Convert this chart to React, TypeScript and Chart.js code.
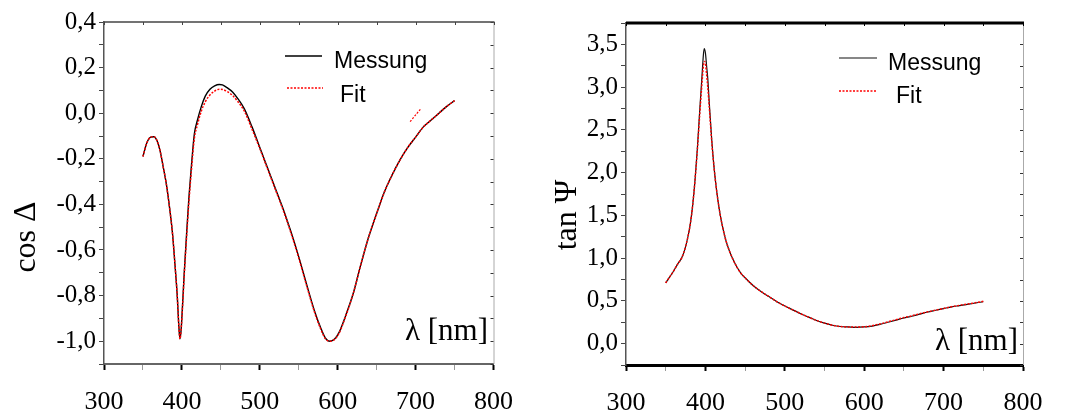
import React, { useEffect, useRef } from 'react';
import { Chart, registerables } from 'chart.js';

Chart.register(...registerables);

// ---------- data: cos Δ (left panel) ----------
const cosLambda = [350, 355, 360, 364, 368, 372, 376, 380, 384, 388, 391, 394, 396, 397.5, 399, 401, 403, 406, 409, 412, 416, 420, 425, 430, 436, 442, 448, 452, 458, 465, 472, 480, 490, 500, 510, 520, 530, 540, 550, 560, 570, 578, 584, 590, 596, 602, 610, 620, 630, 640, 650, 660, 670, 680, 690, 700, 710, 720, 730, 740, 750];
const cosMessung = [-0.19, -0.13, -0.105, -0.103, -0.12, -0.165, -0.235, -0.31, -0.41, -0.53, -0.66, -0.8, -0.93, -0.99, -0.95, -0.83, -0.7, -0.53, -0.37, -0.24, -0.09, -0.03, 0.03, 0.075, 0.105, 0.12, 0.126, 0.124, 0.112, 0.093, 0.063, 0.02, -0.06, -0.15, -0.24, -0.33, -0.42, -0.52, -0.63, -0.75, -0.865, -0.94, -0.985, -1.0, -0.99, -0.96, -0.89, -0.79, -0.66, -0.54, -0.44, -0.345, -0.27, -0.205, -0.15, -0.105, -0.06, -0.03, 0.0, 0.03, 0.055];
const cosFit = [-0.19, -0.13, -0.105, -0.103, -0.12, -0.165, -0.235, -0.31, -0.41, -0.53, -0.66, -0.8, -0.93, -0.99, -0.95, -0.84, -0.71, -0.545, -0.39, -0.26, -0.11, -0.05, 0.01, 0.05, 0.08, 0.097, 0.105, 0.104, 0.095, 0.078, 0.05, 0.01, -0.07, -0.155, -0.245, -0.335, -0.425, -0.525, -0.635, -0.755, -0.87, -0.945, -0.988, -1.0, -0.992, -0.963, -0.893, -0.79, -0.66, -0.54, -0.44, -0.345, -0.27, -0.205, -0.15, -0.105, -0.06, -0.03, 0.0, 0.03, 0.055];
const cosFitStrayLambda = [693, 707];
const cosFitStray = [-0.037, 0.021];

// ---------- data: tan Ψ (right panel) ----------
const tanLambda = [350, 355, 360, 365, 370, 374, 378, 381, 384, 387, 390, 393, 395.5, 397.5, 398.5, 400, 401.5, 403, 405, 408, 411, 414, 418, 422, 426, 430, 435, 440, 445, 450, 460, 470, 480, 490, 500, 510, 520, 530, 540, 550, 560, 570, 580, 590, 600, 610, 620, 630, 640, 650, 660, 670, 680, 690, 700, 710, 720, 730, 740, 750];
const tanMessung = [0.71, 0.78, 0.85, 0.93, 1.0, 1.1, 1.25, 1.4, 1.62, 1.92, 2.3, 2.75, 3.1, 3.38, 3.45, 3.4, 3.25, 3.1, 2.8, 2.38, 2.05, 1.8, 1.54, 1.35, 1.2, 1.09, 0.98, 0.89, 0.82, 0.77, 0.68, 0.61, 0.55, 0.49, 0.44, 0.395, 0.35, 0.31, 0.27, 0.24, 0.215, 0.2, 0.195, 0.19, 0.195, 0.205, 0.225, 0.25, 0.275, 0.3, 0.32, 0.345, 0.37, 0.39, 0.41, 0.43, 0.445, 0.46, 0.475, 0.49];
const tanFit = [0.71, 0.78, 0.85, 0.93, 1.0, 1.1, 1.25, 1.4, 1.62, 1.92, 2.28, 2.7, 3.02, 3.25, 3.3, 3.28, 3.15, 3.0, 2.75, 2.36, 2.05, 1.8, 1.54, 1.35, 1.2, 1.09, 0.98, 0.89, 0.82, 0.77, 0.68, 0.61, 0.55, 0.49, 0.44, 0.395, 0.35, 0.31, 0.27, 0.24, 0.215, 0.2, 0.195, 0.193, 0.197, 0.21, 0.23, 0.255, 0.28, 0.305, 0.325, 0.35, 0.372, 0.392, 0.412, 0.432, 0.448, 0.463, 0.478, 0.495];

// ---------- axes ----------
const xMin = 300;
const xMax = 800;
const xStep = 50;
const xLabelEvery = 100;
const cosYMin = -1.1;
const cosYMax = 0.4;
const cosYStep = 0.1;
const tanYMin = -0.25;
const tanYMax = 3.75;
const tanYStep = 0.25;

const SERIF = "'Liberation Serif', 'Times New Roman', serif";
const SANS = "'Liberation Sans', Arial, sans-serif";

const pts = (xs: number[], ys: number[]) => xs.map((x, i) => ({ x, y: ys[i] }));

const commaLabel = (value: number, perUnit: number) => {
  const v = Math.round(value * perUnit);
  if (v % 2 !== 0) return '';
  return (v / perUnit).toFixed(1).replace('.', ',');
};

type PanelOpts = {
  yTitle: string;
  yTitleX: number;
  yTitleY: number;
  yTitleSize: number;
  lambdaRight: number;
  lambdaBase: number;
  legend: { x0: number; x1: number; textX: number; y: number; base: number }[];
  topColor: string;
  topWidth: number;
  rightColor: string;
};

const overlayPlugin = (o: PanelOpts) => ({
  id: 'overlay',
  afterDatasetsDraw(chart: any) {
    const ctx = chart.ctx;
    const { left, right, top, bottom } = chart.chartArea;
    const xs = chart.scales.x;
    const ys = chart.scales.y;
    ctx.save();
    // right frame + inward ticks
    ctx.strokeStyle = o.rightColor;
    ctx.lineWidth = 1;
    ctx.beginPath();
    ctx.moveTo(right + 0.5, top);
    ctx.lineTo(right + 0.5, bottom);
    ctx.stroke();
    ctx.strokeStyle = '#333';
    ys.ticks.forEach((t: any) => {
      const py = Math.round(ys.getPixelForValue(t.value)) + 0.5;
      ctx.beginPath();
      ctx.moveTo(right, py);
      ctx.lineTo(right - 3, py);
      ctx.stroke();
    });
    // top frame + inward ticks
    ctx.strokeStyle = o.topColor;
    ctx.lineWidth = o.topWidth;
    ctx.beginPath();
    ctx.moveTo(left, top);
    ctx.lineTo(right + 1, top);
    ctx.stroke();
    ctx.lineWidth = 1;
    xs.ticks.forEach((t: any) => {
      const px = Math.round(xs.getPixelForValue(t.value)) + 0.5;
      ctx.beginPath();
      ctx.moveTo(px, top);
      ctx.lineTo(px, top + 3);
      ctx.stroke();
    });
    // legend
    const sets = chart.data.datasets.filter((d: any) => d.label);
    const order = ['Messung', 'Fit'];
    order.forEach((name, i) => {
      const ds = sets.find((d: any) => d.label === name);
      if (!ds) return;
      const L = o.legend[i];
      ctx.strokeStyle = ds.borderColor;
      ctx.lineWidth = ds.borderWidth;
      ctx.setLineDash(ds.borderDash || []);
      ctx.beginPath();
      ctx.moveTo(L.x0, L.y);
      ctx.lineTo(L.x1, L.y);
      ctx.stroke();
      ctx.setLineDash([]);
      ctx.fillStyle = '#000';
      ctx.font = `23px ${SANS}`;
      ctx.textAlign = 'left';
      ctx.textBaseline = 'alphabetic';
      ctx.fillText(ds.label, L.textX, L.base);
    });
    // lambda label
    ctx.font = `31px ${SERIF}`;
    ctx.textAlign = 'right';
    ctx.fillText('λ [nm]', o.lambdaRight, o.lambdaBase);
    // y title
    ctx.translate(o.yTitleX, o.yTitleY);
    ctx.rotate(-Math.PI / 2);
    ctx.textAlign = 'center';
    ctx.textBaseline = 'middle';
    ctx.font = `${o.yTitleSize}px ${SERIF}`;
    ctx.fillText(o.yTitle, 0, 0);
    ctx.restore();
  },
});

type ChartSpec = {
  width: number;
  datasets: any[];
  yMin: number;
  yMax: number;
  yStep: number;
  yPerUnit: number;
  yAxisWidth: number;
  xAxisHeight: number;
  padTop: number;
  padRight: number;
  yBorderColor: string;
  xBorderColor: string;
  xBorderWidth: number;
  overlay: PanelOpts;
};

function Panel({ spec }: { spec: ChartSpec }) {
  const ref = useRef<HTMLCanvasElement | null>(null);
  useEffect(() => {
    if (!ref.current) return;
    const chart = new Chart(ref.current, {
      type: 'line',
      data: { datasets: spec.datasets },
      options: {
        responsive: false,
        animation: false,
        events: [],
        layout: { padding: { top: spec.padTop, right: spec.padRight, left: 0, bottom: 0 } },
        plugins: { legend: { display: false }, tooltip: { enabled: false }, title: { display: false } },
        elements: { point: { radius: 0 }, line: { cubicInterpolationMode: 'monotone' } },
        scales: {
          x: {
            type: 'linear',
            min: xMin,
            max: xMax,
            afterFit: (s: any) => { s.height = spec.xAxisHeight; },
            border: { display: true, color: spec.xBorderColor, width: spec.xBorderWidth },
            grid: {
              drawOnChartArea: false,
              drawTicks: true,
              tickLength: 6,
              tickColor: (c: any) => (c.tick && c.tick.value % xLabelEvery === 0 ? '#000' : '#999'),
              tickWidth: (c: any) => (c.tick && c.tick.value % xLabelEvery === 0 ? 2 : 1),
            },
            ticks: {
              stepSize: xStep,
              autoSkip: false,
              maxRotation: 0,
              padding: 17,
              color: '#000',
              font: { family: SERIF, size: 26 },
              callback: (v: any) => (Number(v) % xLabelEvery === 0 ? String(v) : ''),
            },
          },
          y: {
            type: 'linear',
            min: spec.yMin,
            max: spec.yMax,
            afterFit: (s: any) => { s.width = spec.yAxisWidth; },
            border: { display: true, color: spec.yBorderColor, width: 1.5 },
            grid: { drawOnChartArea: false, drawTicks: true, tickLength: 5, color: '#444' },
            ticks: {
              stepSize: spec.yStep,
              autoSkip: false,
              padding: 3,
              color: '#000',
              font: { family: SERIF, size: 25 },
              callback: (v: any) => commaLabel(Number(v), spec.yPerUnit),
            },
          },
        },
      } as any,
      plugins: [overlayPlugin(spec.overlay)],
    });
    return () => chart.destroy();
  }, [spec]);
  return <canvas ref={ref} width={spec.width} height={418} style={{ width: spec.width, height: 418, display: 'block' }} />;
}

const leftSpec: ChartSpec = {
  width: 530,
  datasets: [
    { label: 'Fit', data: pts(cosLambda, cosFit), borderColor: '#ff0000', borderWidth: 1.5, borderDash: [2, 1.5], order: 0 },
    { label: '', data: pts(cosFitStrayLambda, cosFitStray), borderColor: '#ff0000', borderWidth: 1.2, borderDash: [2, 1.5], order: 0 },
    { label: 'Messung', data: pts(cosLambda, cosMessung), borderColor: '#000', borderWidth: 1.4, order: 1 },
  ],
  yMin: cosYMin,
  yMax: cosYMax,
  yStep: cosYStep,
  yPerUnit: 10,
  yAxisWidth: 104,
  xAxisHeight: 54,
  padTop: 22,
  padRight: 28,
  yBorderColor: '#555',
  xBorderColor: '#666',
  xBorderWidth: 2,
  overlay: {
    yTitle: 'cos Δ',
    yTitleX: 27,
    yTitleY: 237,
    yTitleSize: 32,
    lambdaRight: 488,
    lambdaBase: 340,
    legend: [
      { x0: 285, x1: 322, textX: 334, y: 56, base: 68 },
      { x0: 287, x1: 323, textX: 340, y: 88, base: 102 },
    ],
    topColor: '#444',
    topWidth: 1.5,
    rightColor: '#aaa',
  },
};

const rightSpec: ChartSpec = {
  width: 535,
  datasets: [
    { label: 'Fit', data: pts(tanLambda, tanFit), borderColor: '#ff0000', borderWidth: 1.5, borderDash: [2, 1.5], order: 0 },
    { label: 'Messung', data: pts(tanLambda, tanMessung), borderColor: '#111', borderWidth: 1.2, order: 1 },
  ],
  yMin: tanYMin,
  yMax: tanYMax,
  yStep: tanYStep,
  yPerUnit: 4,
  yAxisWidth: 96,
  xAxisHeight: 53,
  padTop: 23,
  padRight: 42,
  yBorderColor: '#555',
  xBorderColor: '#000',
  xBorderWidth: 3,
  overlay: {
    yTitle: 'tan Ψ',
    yTitleX: 38,
    yTitleY: 215,
    yTitleSize: 32,
    lambdaRight: 488,
    lambdaBase: 350,
    legend: [
      { x0: 309, x1: 347, textX: 358, y: 58, base: 70 },
      { x0: 309, x1: 346, textX: 366, y: 91, base: 103 },
    ],
    topColor: '#000',
    topWidth: 3,
    rightColor: '#aaa',
  },
};

export default function App() {
  return (
    <div style={{ position: 'fixed', left: 0, top: 0, width: 1065, height: 418, background: '#fff', display: 'flex' }}>
      <Panel spec={leftSpec} />
      <Panel spec={rightSpec} />
    </div>
  );
}
